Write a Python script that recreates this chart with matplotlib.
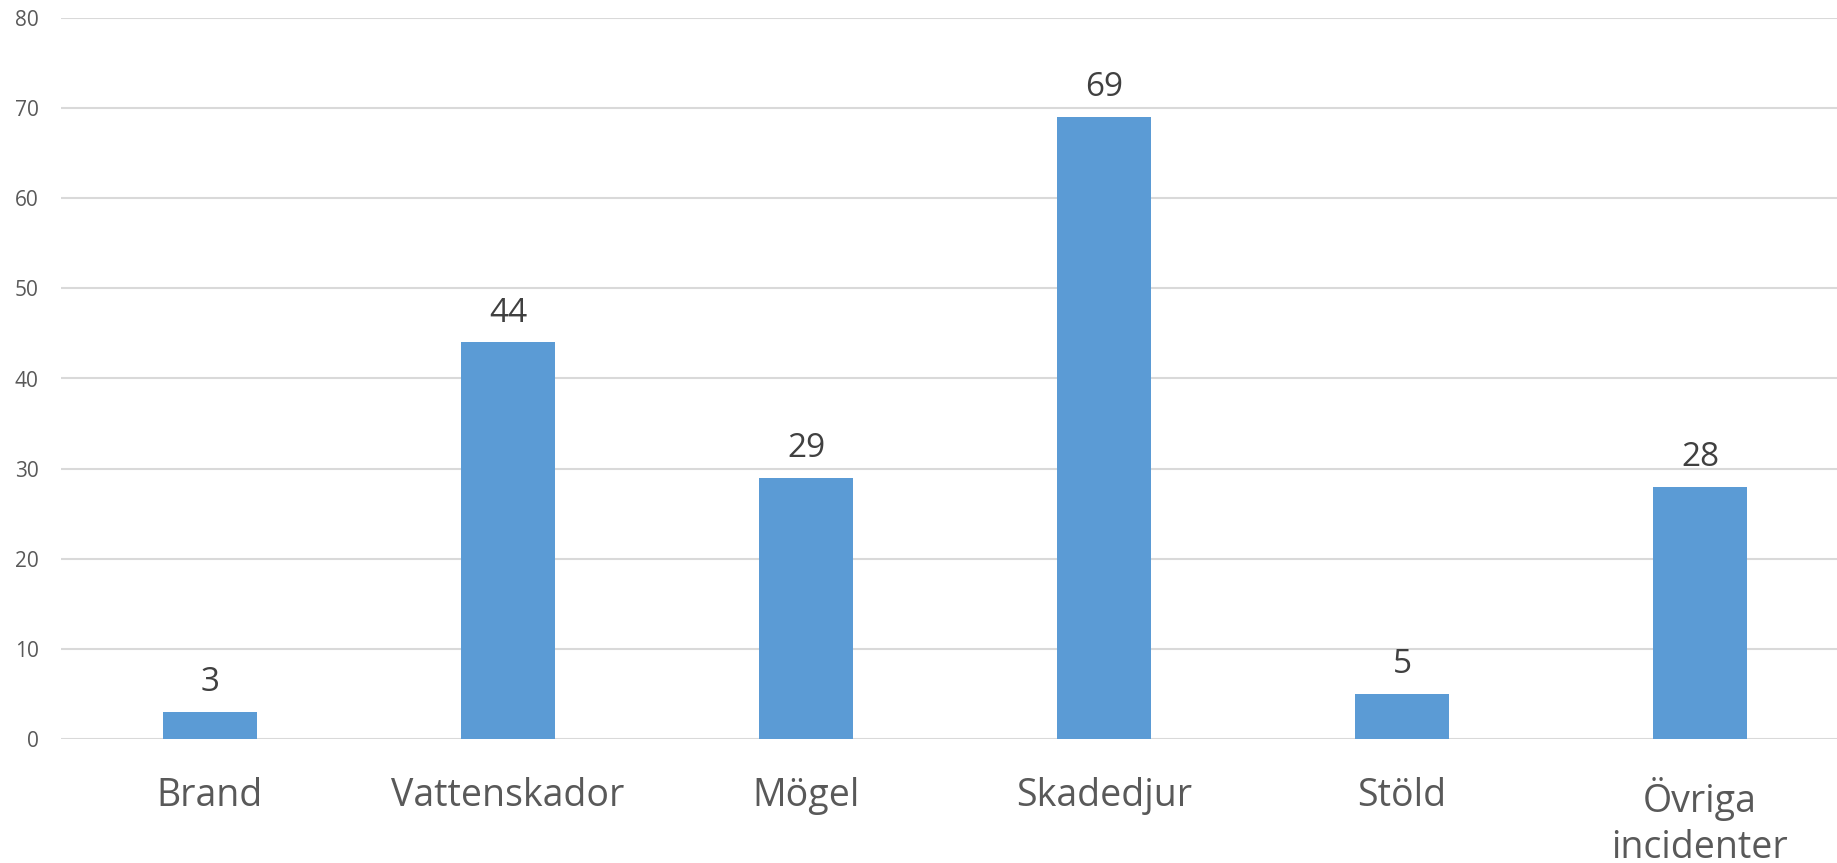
import matplotlib.pyplot as plt

categories = ["Brand", "Vattenskador", "Mögel", "Skadedjur", "Stöld", "Övriga\nincidenter"]
counts = [3, 44, 29, 69, 5, 28]
yticks = [0, 10, 20, 30, 40, 50, 60, 70, 80]

plt.rcParams['font.family'] = ['Open Sans', 'DejaVu Sans']

fig = plt.figure(figsize=(18.37, 8.63), dpi=100)
# plot area runs a little past the right edge of the figure
ax = fig.add_axes([61/1837, 1 - 739/863, 1788/1837, (739 - 18)/863])

x = range(len(categories))
bars = ax.bar(x, counts, width=0.318, color='#5B9BD5', zorder=3)

for xi, v in zip(x, counts):
    ax.annotate(str(v), (xi, v), xytext=(0, 15), textcoords='offset points',
                ha='center', va='baseline', fontsize=24, color='#404040')

ax.set_xlim(-0.5, len(categories) - 0.5)
ax.set_ylim(0, 80)
ax.set_yticks(yticks)
ax.set_xticks(list(x))
ax.set_xticklabels(categories, linespacing=1.3)
ax.tick_params(axis='y', length=0, pad=16, labelsize=15, labelcolor='#595959')
ax.tick_params(axis='x', length=0, pad=27, labelsize=27, labelcolor='#595959')
ax.grid(axis='y', color='#D9D9D9', linewidth=1.5, zorder=0)
for s in ax.spines.values():
    s.set_visible(False)

fig.savefig('out.png', dpi=100)
